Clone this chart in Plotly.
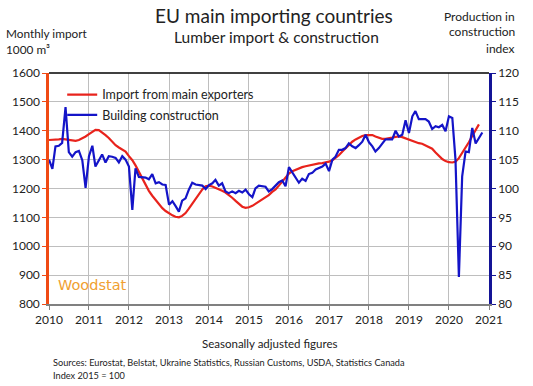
import plotly.graph_objects as go
import pandas as pd

# Monthly lumber import from main exporters, 1000 m3 (Jan 2010 - Oct 2020)
import_vals = [
    1368, 1368, 1369, 1370, 1372, 1370, 1367, 1365, 1365, 1368, 1373, 1380,
    1388, 1397, 1403, 1402, 1395, 1385, 1375, 1362, 1350, 1342, 1336, 1328,
    1312, 1298, 1280, 1258, 1235, 1212, 1192, 1175, 1160, 1145, 1132, 1122,
    1113, 1107, 1102, 1100, 1105, 1115, 1130, 1148, 1165, 1182, 1197, 1208,
    1210, 1207, 1203, 1198, 1192, 1186, 1178, 1168, 1157, 1146, 1137, 1133,
    1135, 1140, 1147, 1152, 1160, 1168, 1177, 1188, 1197, 1210, 1225, 1240,
    1252, 1260, 1265, 1270, 1274, 1277, 1280, 1283, 1285, 1287, 1288, 1290,
    1293, 1298, 1305, 1315, 1327, 1340, 1352, 1362, 1370, 1377, 1382, 1385,
    1386, 1385, 1380, 1375, 1372, 1372, 1373, 1376, 1379, 1380, 1378, 1374,
    1369, 1365, 1360, 1357, 1355, 1350, 1345, 1338, 1325, 1312, 1302, 1295,
    1291, 1290, 1293, 1305, 1322, 1340, 1360, 1382, 1402, 1422,
]

# Building construction production index, 2015 = 100 (Jan 2010 - Nov 2020)
construction_vals = [
    105.0, 103.4, 107.3, 107.4, 107.9, 114.1, 106.3, 105.5, 106.3, 106.5, 104.9, 100.1,
    105.6, 107.4, 103.8, 105.0, 105.9, 104.5, 105.6, 105.5, 105.3, 104.5, 105.6, 105.0,
    103.8, 96.3, 103.5, 102.0, 102.0, 101.9, 101.6, 102.5, 100.9, 101.1, 100.7, 100.6,
    97.2, 97.8, 97.0, 96.0, 97.9, 98.3, 99.8, 101.0, 100.7, 100.6, 100.5, 99.9,
    100.6, 100.9, 101.5, 100.5, 100.9, 99.5, 99.2, 99.5, 99.2, 99.6, 99.3, 99.8,
    99.0, 98.5, 100.0, 100.5, 100.4, 100.3, 99.5, 99.9, 100.5, 101.1, 101.4, 100.4,
    103.7, 102.8, 102.0, 101.0, 101.7, 101.3, 102.5, 102.7, 103.3, 103.6, 103.8, 104.3,
    103.0, 105.0, 105.5, 106.7, 106.7, 107.0, 107.8, 107.3, 107.0, 107.5, 108.1, 109.3,
    108.0, 107.3, 106.4, 107.0, 107.8, 108.5, 108.5, 108.5, 110.0, 109.0, 109.3, 111.8,
    109.6, 112.5, 113.4, 112.0, 112.0, 112.0, 111.6, 110.3, 110.8, 110.6, 111.0, 109.9,
    112.5, 112.2, 105.0, 84.7, 102.1, 106.4, 106.3, 110.5, 107.8, 108.8, 109.7,
]

import_dates = pd.date_range("2010-01-01", periods=len(import_vals), freq="MS")
construction_dates = pd.date_range("2010-01-01", periods=len(construction_vals), freq="MS")
year_ticks = [f"{y}-01-01" for y in range(2010, 2022)]
year_labels = [str(y) for y in range(2010, 2022)]

FONT = "Lato"
RED = "#E8231C"
BLUE = "#1414C8"

fig = go.Figure()
fig.add_trace(go.Scatter(
    x=import_dates, y=import_vals, mode="lines", name="Import from main exporters",
    line=dict(color=RED, width=2.2), legendgroup="a", yaxis="y"))
fig.add_trace(go.Scatter(
    x=construction_dates, y=construction_vals, mode="lines", name="Building construction",
    line=dict(color=BLUE, width=2.2), legendgroup="b", yaxis="y2"))

fig.update_layout(
    width=533, height=386,
    margin=dict(l=45, r=44, t=73, b=82),
    paper_bgcolor="white", plot_bgcolor="white",
    font=dict(family=FONT, size=12, color="#222222"),
    showlegend=True,
    legend=dict(x=0.03, y=0.97, xanchor="left", yanchor="top",
                bgcolor="rgba(0,0,0,0)", font=dict(size=12.5, color="#222222"),
                tracegroupgap=1, traceorder="grouped"),
    xaxis=dict(type="date", range=["2010-01-01", "2021-01-01"],
               tickvals=year_ticks, ticktext=year_labels,
               showgrid=True, gridcolor="#BEBEBE", gridwidth=1,
               showline=True, linecolor="#808080", linewidth=2,
               ticks="outside", ticklen=4, tickcolor="#808080",
               tickfont=dict(size=12), zeroline=False),
    yaxis=dict(range=[800, 1600], dtick=100, showgrid=True, gridcolor="#BEBEBE",
               showline=True, linecolor="#F04A14", linewidth=2.5,
               ticks="outside", ticklen=4, tickcolor="#F04A14",
               tickfont=dict(size=12), zeroline=False),
    yaxis2=dict(range=[80, 120], dtick=5, overlaying="y", side="right",
                showgrid=False, showline=True, linecolor="#141496", linewidth=2.5,
                ticks="outside", ticklen=4, tickcolor="#141496",
                tickfont=dict(size=12), zeroline=False),
)

# top frame line
fig.add_shape(type="line", xref="paper", yref="paper", x0=0, x1=1, y0=1, y1=1,
              line=dict(color="black", width=1.5))


def ann(text, px, py, size, xanchor="left", color="#222222", family=FONT):
    fig.add_annotation(text=text, xref="paper", yref="paper",
                       x=(px - 45) / 444, y=(386 - 82 - py) / 231,
                       showarrow=False, xanchor=xanchor, yanchor="middle",
                       font=dict(size=size, color=color, family=family), align=xanchor)


ann("EU main importing countries", 272, 15, 19, "center")
ann("Lumber import &amp; construction", 275, 37, 15.5, "center")
ann("Monthly import", 0, 33, 11.8)
ann("1000 m³", 0, 50, 11.8)
ann("Production in", 517, 16, 12, "right")
ann("construction", 517, 32, 12, "right")
ann("index", 517, 48, 12, "right")
ann("Seasonally adjusted figures", 268, 343, 11.5, "center")
ann("Sources: Eurostat, Belstat, Ukraine Statistics, Russian Customs, USDA, Statistics Canada",
    47, 362, 9.2)
ann("Index 2015 = 100", 47, 375, 9.2)
ann("Woodstat", 52, 285, 14.5, "left", "#F0A030", "DejaVu Sans")

fig.write_html("out.html", config={"displayModeBar": False},
               post_script="document.body.style.margin='0px';")
